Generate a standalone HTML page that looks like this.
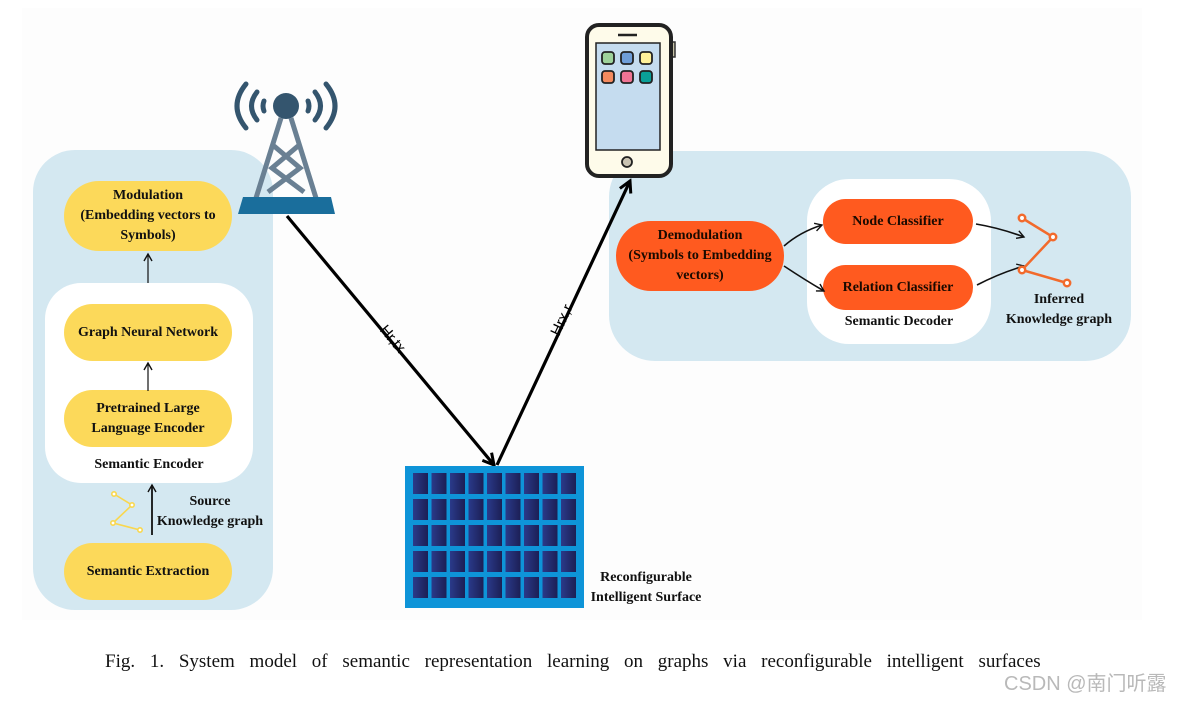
<!DOCTYPE html>
<html><head><meta charset="utf-8"><style>
body{margin:0;width:1180px;height:702px;background:#fff;overflow:hidden;position:relative;font-family:"Liberation Serif",serif}
.a{position:absolute}
.pill{position:absolute;border-radius:40px;display:flex;align-items:center;justify-content:center;text-align:center;font-weight:bold;font-size:14px;line-height:20px;color:#111}
.y{background:#fcd95a}.o{background:#ff5a1f;color:#1a0a00}
.t{position:absolute;font-weight:bold;font-size:14px;line-height:20px;text-align:center;color:#111}
</style></head><body>
<div class="a" style="left:22px;top:8px;width:1120px;height:612px;background:#fdfdfd"></div>
<div class="a" style="left:33px;top:150px;width:240px;height:460px;background:#d4e8f1;border-radius:42px"></div>
<div class="a" style="left:609px;top:151px;width:522px;height:210px;background:#d4e8f1;border-radius:46px"></div>
<div class="a" style="left:45px;top:283px;width:208px;height:200px;background:#fff;border-radius:36px"></div>
<div class="a" style="left:807px;top:179px;width:184px;height:165px;background:#fff;border-radius:42px"></div>

<div class="pill y" style="left:64px;top:181px;width:168px;height:70px">Modulation<br>(Embedding vectors to<br>Symbols)</div>
<div class="pill y" style="left:64px;top:304px;width:168px;height:57px">Graph Neural Network</div>
<div class="pill y" style="left:64px;top:390px;width:168px;height:57px">Pretrained Large<br>Language Encoder</div>
<div class="t" style="left:45px;top:455px;width:208px">Semantic Encoder</div>
<div class="pill y" style="left:64px;top:543px;width:168px;height:57px">Semantic Extraction</div>
<div class="t" style="left:150px;top:492px;width:120px">Source<br>Knowledge graph</div>

<div class="pill o" style="left:616px;top:221px;width:168px;height:70px">Demodulation<br>(Symbols to Embedding<br>vectors)</div>
<div class="pill o" style="left:823px;top:199px;width:150px;height:45px">Node Classifier</div>
<div class="pill o" style="left:823px;top:265px;width:150px;height:45px">Relation Classifier</div>
<div class="t" style="left:807px;top:312px;width:184px">Semantic Decoder</div>
<div class="t" style="left:995px;top:290px;width:128px">Inferred<br>Knowledge graph</div>

<div class="t" style="left:586px;top:568px;width:120px">Reconfigurable<br>Intelligent Surface</div>

<svg class="a" style="left:0;top:0" width="1180" height="702">
<defs>
<marker id="m" markerWidth="10" markerHeight="10" refX="8" refY="5" orient="auto" markerUnits="userSpaceOnUse"><path d="M1,1 L8,5 L1,9" fill="none" stroke="#111" stroke-width="1.4"/></marker>
<marker id="mb" markerWidth="16" markerHeight="16" refX="13" refY="8" orient="auto" markerUnits="userSpaceOnUse"><path d="M2,2 L13,8 L2,14" fill="none" stroke="#000" stroke-width="3"/></marker>
<linearGradient id="cg" x1="0" x2="1"><stop offset="0" stop-color="#2a3a8a"/><stop offset="1" stop-color="#1c1f55"/></linearGradient>
</defs>
<g stroke="#111" stroke-width="1.2" fill="none">
<line x1="148" y1="283" x2="148" y2="254" marker-end="url(#m)"/>
<line x1="148" y1="391" x2="148" y2="363" marker-end="url(#m)"/>
<line x1="152" y1="535" x2="152" y2="485" stroke-width="1.8" marker-end="url(#m)"/>
<path d="M784,246 Q800,232 822,225" marker-end="url(#m)" stroke-width="1.6"/>
<path d="M784,266 Q805,280 824,291" marker-end="url(#m)" stroke-width="1.6"/>
<path d="M976,224 Q1000,228 1024,237" marker-end="url(#m)" stroke-width="1.6"/>
<path d="M977,285 Q1000,273 1024,266" marker-end="url(#m)" stroke-width="1.6"/>
</g>
<g stroke="#f9d74f" stroke-width="1.6" fill="#fff"><polyline points="114,494 132,505 113,523 140,530" fill="none"/><circle cx="114" cy="494" r="2.2"/><circle cx="132" cy="505" r="2.2"/><circle cx="113" cy="523" r="2.2"/><circle cx="140" cy="530" r="2.2"/></g>
<g stroke="#f26a2c" stroke-width="2.5" fill="#fff"><polyline points="1022,218 1053,237 1022,270 1067,283" fill="none"/><circle cx="1022" cy="218" r="3.2"/><circle cx="1053" cy="237" r="3.2"/><circle cx="1022" cy="270" r="3.2"/><circle cx="1067" cy="283" r="3.2"/></g>
<!-- tower -->
<g stroke="#34556e" stroke-width="5" fill="none" stroke-linecap="round">
<path d="M246,84 Q228,106 246,128"/><path d="M257,92 Q246,106 257,120"/><path d="M264,101 Q262,106 264,111"/>
<path d="M326,84 Q344,106 326,128"/><path d="M315,92 Q326,106 315,120"/><path d="M308,101 Q310,106 308,111"/>
</g>
<g stroke="#6a8093" stroke-width="5" fill="none"><path d="M281,118 L256,198 M291,118 L316,198 M274,146 L300,168 L268,192 M298,146 L272,168 L304,192"/></g>
<circle cx="286" cy="106" r="13" fill="#34556e"/>
<polygon points="243,197 331,197 335,214 238,214" fill="#1a6e9c"/>
<!-- beams -->
<line x1="287" y1="216" x2="494" y2="465" stroke="#000" stroke-width="3.2" marker-end="url(#mb)"/>
<line x1="497" y1="465" x2="630" y2="181" stroke="#000" stroke-width="3.2" marker-end="url(#mb)"/>
<text transform="translate(389,342) rotate(50)" font-family="Liberation Sans" font-size="15" text-anchor="middle">Hr,tx</text>
<text transform="translate(566,322) rotate(-65)" font-family="Liberation Sans" font-size="15" text-anchor="middle">Hrx,r</text>
<!-- RIS -->
<rect x="405" y="466" width="179" height="142" fill="#0e94d8"/>
<g fill="url(#cg)" id="cells"></g>
<!-- phone -->
<rect x="670" y="42" width="5" height="15" fill="#c8c4a8" stroke="#333" stroke-width="1.5"/>
<rect x="587" y="25" width="84" height="151" rx="12" fill="#fefbea" stroke="#222" stroke-width="4"/>
<line x1="618" y1="35" x2="637" y2="35" stroke="#222" stroke-width="2.5"/>
<rect x="596" y="43" width="64" height="107" fill="#c5dcef" stroke="#222" stroke-width="1.5"/>
<g stroke="#222" stroke-width="1.8"><rect x="602" y="52" width="12" height="12" rx="3" fill="#9ed29a"/><rect x="621" y="52" width="12" height="12" rx="3" fill="#6f9ed8"/><rect x="640" y="52" width="12" height="12" rx="3" fill="#fff19a"/><rect x="602" y="71" width="12" height="12" rx="3" fill="#f48a5e"/><rect x="621" y="71" width="12" height="12" rx="3" fill="#f07494"/><rect x="640" y="71" width="12" height="12" rx="3" fill="#0aa098"/></g>
<circle cx="627" cy="162" r="5" fill="#c9c3b2" stroke="#222" stroke-width="1.8"/>
<text x="105" y="667" font-family="Liberation Serif" font-size="19" fill="#111" word-spacing="10">Fig. 1.  System model of semantic representation learning on graphs via reconfigurable intelligent surfaces</text>
<text x="1004" y="690" font-family="Liberation Sans, Noto Sans CJK SC, sans-serif" font-size="20" fill="#b9b9b9">CSDN @南门听露</text>
</svg>
<script>
var g=document.getElementById('cells'),s='';
for(var r=0;r<5;r++)for(var c=0;c<9;c++){s+='<rect x="'+(413+c*18.5)+'" y="'+(473+r*26)+'" width="15" height="21"/>';}
g.innerHTML=s;
</script>
</body></html>
